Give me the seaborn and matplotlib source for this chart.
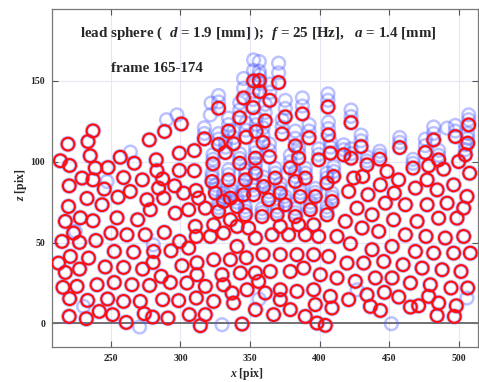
import matplotlib
matplotlib.use("Agg")
import matplotlib.pyplot as plt
import seaborn as sns

# ---- frame 174: particle centres [pix], read region by region ----
left_top_x = [237.1, 219.1, 233.5, 213.6, 220.3, 235.1, 238.7, 247.9, 256.7, 266.8,
              277.6, 288.6, 300.6, 282.6, 283.1, 299.2, 310.0, 299.2, 310.0, 229.2,
              237.1, 220.0, 259.1, 272.6, 287.2, 295.8, 245.2, 263.9, 284.3, 302.3,
              311.2, 232.8, 255.1, 243.6, 275.9, 287.9, 219.5, 217.2, 228.0, 237.1,
              254.4, 269.2, 278.3, 296.3, 305.9]
left_top_z = [119.1, 110.9, 112.5, 100.6, 97.7, 103.7, 96.1, 96.4, 102.8, 99.1,
              113.5, 118.7, 123.4, 101.2, 94.4, 105.3, 106.9, 94.6, 94.4, 89.9,
              88.8, 85.1, 90.2, 88.8, 89.4, 85.1, 83.1, 81.6, 83.7, 80.6,
              82.2, 77.3, 78.1, 73.4, 76.5, 77.5, 72.3, 63.1, 65.3, 63.5,
              65.3, 64.1, 70.3, 68.2, 70.3]

left_low_x = [214.8, 223.1, 227.4, 239.2, 250.0, 261.5, 274.7, 288.4, 299.4, 305.9, 311.4,
              212.3, 220.8, 233.9, 252.4, 266.3, 280.7, 293.2,
              217.2, 227.4, 245.9, 259.1, 272.8, 280.3, 286.2, 301.1, 311.9,
              215.5, 225.6, 240.0, 252.4, 265.1, 277.8, 292.7, 304.7,
              220.3, 233.2, 247.6, 259.1, 271.1, 287.2, 298.7, 311.4,
              220.0, 232.3, 241.6, 251.2, 261.0, 274.0, 280.0, 291.0, 306.4, 314.3]
left_low_z = [50.7, 55.9, 50.1, 51.3, 55.9, 54.8, 54.8, 56.3, 50.7, 46.6, 53.8,
              37.3, 41.4, 40.4, 44.5, 44.1, 44.5, 44.9,
              31.5, 33.6, 34.9, 34.6, 33.6, 37.7, 29.1, 35.7, 37.5,
              22.3, 22.9, 23.9, 25.3, 23.9, 23.5, 25.3, 25.0,
              15.3, 14.2, 15.1, 13.6, 13.6, 14.7, 14.1, 15.7,
              4.3, 2.9, 7.4, 5.4, 0.6, 6.0, 3.9, 3.3, 5.4, -1.4]

peak_x = [352.6, 356.7, 356.9, 370.6, 345.4, 364.3, 327.4, 352.3, 342.6, 375.4,
          361.0, 387.7, 406.1, 334.6, 347.2, 354.4, 359.4, 373.1, 317.2, 327.4,
          332.3, 338.2, 382.6, 392.5, 399.4, 407.8, 406.4, 323.4, 364.0, 379.0]
peak_z = [150.0, 150.2, 143.4, 149.0, 139.5, 138.0, 133.1, 133.5, 127.3, 127.8,
          125.3, 129.6, 133.9, 118.9, 115.2, 118.7, 111.9, 117.2, 114.2, 110.7,
          105.7, 111.1, 109.8, 114.8, 101.2, 105.3, 116.6, 98.7, 103.0, 96.2]

mid_left_x = [342.6, 353.9, 353.9, 346.7, 359.8, 334.6, 322.7, 313.1, 325.1, 335.9,
              345.4, 352.6, 331.0, 317.9, 327.4, 340.7, 346.7, 358.7, 335.9, 310.7,
              323.9, 331.0, 340.7, 349.0, 321.5]
mid_left_z = [99.1, 102.2, 93.0, 88.8, 84.7, 88.8, 87.8, 77.5, 80.6, 77.5,
              79.6, 79.6, 75.4, 71.3, 69.2, 72.3, 67.2, 66.1, 64.1, 60.0,
              61.0, 55.9, 60.0, 59.0, 53.8]

mid_right_x = [385.0, 368.2, 382.6, 389.8, 405.4, 410.2, 363.4, 371.8, 375.4, 386.2,
               397.0, 409.0, 369.5, 382.6, 393.4, 405.4, 371.8, 385.0, 395.8, 365.9,
               377.8, 389.8, 399.4, 412.6]
mid_right_z = [102.2, 89.9, 87.8, 89.9, 86.8, 90.9, 76.5, 80.6, 73.4, 78.5,
               78.5, 75.4, 67.2, 66.1, 70.3, 67.2, 60.0, 61.0, 61.0, 54.8,
               54.8, 54.8, 53.8, 53.8]

mid_low_x = [340.7, 353.9,
             323.9, 335.9, 347.4, 359.4, 371.8, 383.8, 395.8, 406.6,
             329.9, 343.1, 353.9, 364.6, 379.0, 388.6, 400.6, 412.6,
             317.9, 331.0, 337.1, 347.9, 356.2, 361.0, 371.8, 383.8, 395.8, 407.8,
             323.9, 338.2, 353.9, 371.8, 379.0, 397.0, 409.0,
             317.9, 367.0, 389.8, 398.2, 404.2, 344.3, 311.9]
mid_low_z = [47.6, 52.8,
             39.4, 39.4, 40.6, 42.5, 42.5, 42.5, 42.5, 41.4,
             30.1, 31.2, 31.2, 32.1, 32.1, 34.2, 30.1, 28.1,
             22.9, 23.9, 18.8, 20.8, 25.9, 18.8, 20.8, 19.8, 20.8, 16.7,
             13.6, 12.6, 8.5, 14.7, 8.5, 11.6, 9.5,
             5.4, 5.4, 4.3, 0.2, -1.2, -0.4, 30.1]

right_top_x = [422.7, 429.9, 417.4, 422.7, 457.7, 443.3, 434.2, 448.6, 424.6, 431.1,
               443.8, 456.9, 467.3, 476.1, 482.1, 485.7, 478.5, 489.3, 497.7, 500.1,
               504.9, 506.6, 507.3, 508.0, 421.0, 434.9, 453.8, 469.0, 477.4, 484.6,
               496.5, 506.1, 427.0, 447.4, 461.8, 477.4, 491.8, 503.7, 418.6, 437.8,
               453.3, 470.2, 485.7, 498.9]
right_top_z = [124.2, 109.4, 104.3, 102.2, 108.8, 101.6, 98.1, 94.0, 89.9, 90.9,
               85.7, 88.8, 96.1, 105.7, 113.5, 101.2, 97.5, 95.4, 115.6, 100.1,
               104.3, 111.5, 122.8, 92.9, 81.6, 79.6, 80.6, 83.7, 88.8, 82.6,
               85.7, 78.5, 71.3, 74.4, 73.4, 73.4, 74.4, 71.3, 63.1, 67.2,
               64.1, 63.1, 65.1, 65.1]

right_low_x = [430.6, 442.6, 461.8, 476.6, 490.5, 503.7,
               422.2, 437.8, 452.2, 469.0, 482.1, 496.5, 508.5,
               419.8, 431.8, 446.2, 460.1, 473.8, 488.2, 501.8,
               425.8, 440.2, 452.2, 465.4, 479.7, 494.6, 506.6,
               421.0, 434.2, 446.7, 457.0, 478.5,
               436.6, 443.8, 465.4, 471.3, 485.7, 498.4,
               484.6, 497.0]
right_low_z = [59.0, 56.9, 54.8, 53.8, 52.8, 53.8,
               49.3, 45.6, 47.6, 44.5, 43.5, 43.5, 43.5,
               37.3, 37.3, 38.3, 36.3, 34.2, 33.2, 32.1,
               26.0, 28.1, 28.1, 25.0, 23.9, 21.9, 21.9,
               14.7, 17.7, 19.2, 16.3, 16.7,
               10.5, 8.0, 10.1, 10.9, 12.6, 10.9,
               4.8, 4.3]

# ---- frames 165-173: ghost positions that stand clear of frame 174 ----
ghost_x = [352.6, 352.6, 356.7, 356.7, 356.9, 356.9, 370.6, 370.6, 345.4, 345.4,
           364.3, 364.3, 327.4, 327.4, 352.3, 352.3, 342.6, 342.6, 375.4, 375.4,
           361.0, 361.0, 387.7, 387.7, 406.1, 406.1, 334.6, 334.6, 347.2, 347.2,
           354.4, 354.4, 359.4, 359.4, 373.1, 373.1, 317.2, 317.2, 327.4, 327.4,
           332.3, 332.3, 338.2, 338.2, 382.6, 382.6, 392.5, 392.5, 399.4, 399.4,
           407.8, 407.8, 406.4, 406.4, 323.4, 323.4, 364.0, 364.0, 379.0, 379.0,
           342.6, 342.6, 353.9, 353.9, 353.9, 353.9, 346.7, 346.7, 359.8, 359.8,
           334.6, 334.6, 322.7, 322.7, 325.1, 325.1, 335.9, 335.9, 345.4, 345.4,
           352.6, 352.6, 331.0, 331.0, 327.4, 327.4, 340.7, 340.7, 346.7, 346.7,
           358.7, 358.7, 385.0, 385.0, 368.2, 368.2, 382.6, 382.6, 389.8, 389.8,
           405.4, 405.4, 410.2, 410.2, 363.4, 363.4, 371.8, 371.8, 375.4, 375.4,
           386.2, 386.2, 397.0, 397.0, 409.0, 409.0, 369.5, 369.5, 382.6, 382.6,
           393.4, 393.4, 405.4, 405.4, 422.7, 422.7, 429.9, 429.9, 417.4, 417.4,
           422.7, 422.7, 457.7, 457.7, 443.3, 443.3, 434.2, 434.2, 476.1, 476.1,
           482.1, 482.1, 497.7, 497.7, 504.9, 504.9, 506.6, 506.6, 507.3, 507.3,
           485.7, 485.7, 467.3, 467.3,
           322.0, 321.5, 290.0, 297.5, 264.0, 247.2, 270.6, 451.7, 329.9, 506.1,
           427.0, 280.5, 230.3, 224.4, 356.5, 491.8]
ghost_z = [156.5, 163.0, 156.0, 162.0, 148.5, 153.5, 155.0, 161.0, 145.5, 151.5,
           143.0, 148.0, 137.0, 141.0, 138.5, 143.5, 132.0, 136.5, 133.0, 138.0,
           130.5, 135.5, 134.5, 139.5, 138.0, 142.0, 123.0, 127.0, 119.5, 124.0,
           123.0, 127.5, 116.5, 121.0, 121.5, 126.0, 117.5, 121.0, 114.0, 117.5,
           109.0, 112.5, 115.0, 119.0, 114.5, 119.0, 119.0, 123.0, 104.5, 108.0,
           109.0, 112.5, 120.5, 124.5, 101.5, 104.5, 107.0, 111.0, 100.0, 104.0,
           102.0, 105.0, 105.5, 109.0, 96.0, 99.0, 92.0, 95.0, 87.5, 90.5,
           92.0, 95.0, 90.5, 93.0, 83.0, 85.5, 80.0, 82.5, 82.5, 85.5,
           82.5, 85.5, 78.0, 80.5, 71.5, 74.0, 75.0, 77.5, 69.5, 72.0,
           68.5, 71.0, 105.5, 109.0, 93.0, 96.0, 91.0, 94.0, 93.0, 96.0,
           90.0, 93.0, 94.0, 97.0, 79.0, 81.5, 83.5, 86.5, 76.0, 78.5,
           81.0, 83.5, 81.0, 83.5, 78.0, 80.5, 69.5, 72.0, 68.5, 71.0,
           72.5, 75.0, 69.5, 72.0, 128.0, 132.0, 113.0, 116.5, 107.5, 110.5,
           105.0, 108.0, 112.0, 115.0, 104.0, 106.5, 100.5, 103.0, 110.0, 114.0,
           117.5, 121.5, 119.0, 122.5, 107.5, 110.5, 114.5, 117.5, 126.0, 129.0,
           104.0, 107.0, 99.0, 101.5,
           136.3, 129.0, 126.0, 129.0, 106.0, 87.8, -2.2, -0.2, -0.8, 15.7,
           20.8, 48.6, 10.5, 56.9, 15.0, 120.8]

x_ticks = [250, 300, 350, 400, 450, 500]
z_ticks = [0, 50, 100, 150]

red_x = left_top_x + left_low_x + peak_x + mid_left_x + mid_right_x + mid_low_x + right_top_x + right_low_x
red_z = left_top_z + left_low_z + peak_z + mid_left_z + mid_right_z + mid_low_z + right_top_z + right_low_z

BLUE = "#4f5cff"
RED = "#ff0d0d"

sns.set_style("ticks")
plt.rcParams["font.family"] = ["Liberation Serif", "DejaVu Serif"]
plt.rcParams["font.weight"] = "bold"
plt.rcParams["mathtext.fontset"] = "custom"
plt.rcParams["mathtext.it"] = "Liberation Serif:italic:bold"
plt.rcParams["mathtext.rm"] = "Liberation Serif:bold"

fig = plt.figure(figsize=(4.79, 3.82), dpi=100)
ax = fig.add_axes([52 / 479, 35 / 382, 426 / 479, 338 / 382])

# earlier frames (blue, translucent) under the last frame (red)
sns.scatterplot(x=red_x, y=red_z, ax=ax, marker="o", s=84, facecolor="none",
                edgecolor=BLUE, linewidth=2.8, alpha=0.35, legend=False, zorder=2)
sns.scatterplot(x=ghost_x, y=ghost_z, ax=ax, marker="o", s=84, facecolor="none",
                edgecolor=BLUE, linewidth=1.8, alpha=0.38, legend=False, zorder=2)
sns.scatterplot(x=red_x, y=red_z, ax=ax, marker="o", s=84, facecolor="none",
                edgecolor=RED, linewidth=1.5, legend=False, zorder=3)

ax.axhline(0, color="#707070", lw=1.4, zorder=1)

ax.set_xlim(207.6, 514.0)
ax.set_ylim(-14.6, 194.5)
ax.set_xticks(x_ticks)
ax.set_yticks(z_ticks)
ax.grid(True, color="#e6e6f6", lw=0.8, zorder=0)
ax.tick_params(direction="in", length=4, width=0.8, top=True, right=True,
               labelsize=7, pad=5, color="#555555")
for lab in ax.get_xticklabels() + ax.get_yticklabels():
    lab.set_fontweight("bold")
for sp in ax.spines.values():
    sp.set_color("#777777")
    sp.set_linewidth(0.9)

ax.set_xlabel(r"$x$ [pix]", fontsize=8.5, fontweight="bold")
ax.set_ylabel(r"$z$ [pix]", fontsize=8.5, fontweight="bold")
ax.xaxis.set_label_coords((247 - 52) / 426, -0.055)
ax.yaxis.set_label_coords(-0.055, 0.48)

ax.text(227.5, 179.5, r"lead sphere (  $d$ = 1.9 [mm] );  $f$ = 25 [Hz],   $a$ = 1.4 [mm]",
        fontsize=10.8, fontweight="bold", va="center")
ax.text(250.0, 157.4, "frame 165-174", fontsize=10.8, fontweight="bold", va="center")

fig.savefig("out.png", dpi=100)
